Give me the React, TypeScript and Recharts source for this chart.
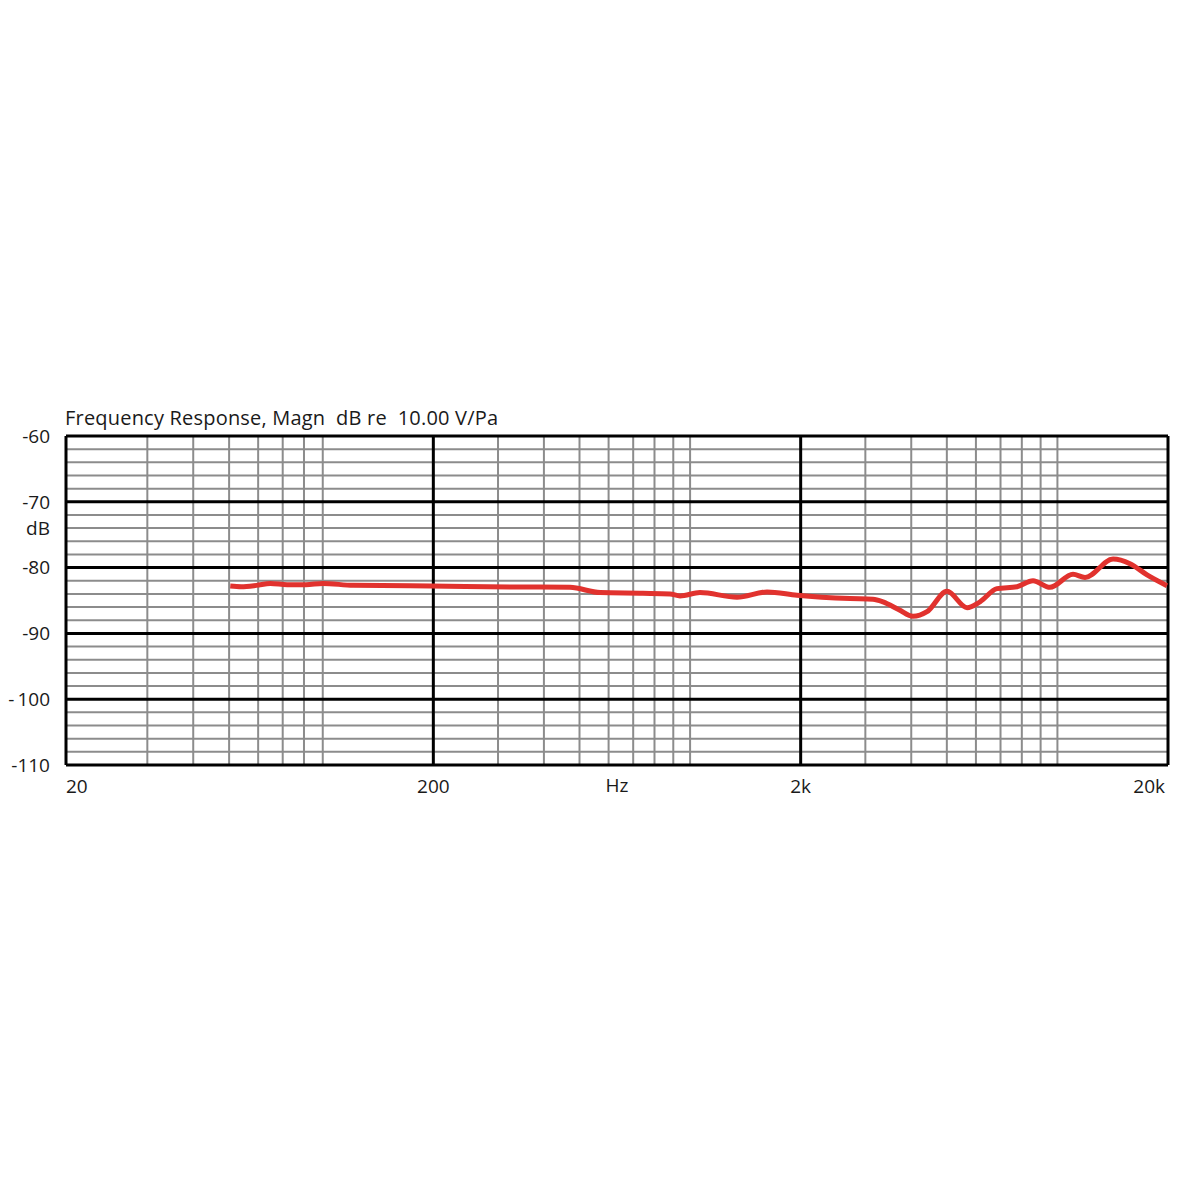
import React from "react";
import { LineChart, Line, XAxis, YAxis, CartesianGrid } from "recharts";

const freqs = [56, 60, 66, 72, 80, 90, 100, 121, 196, 344, 471, 569, 744, 882, 939, 1064, 1342, 1620, 1955, 2725, 3147, 3352, 3704, 4044, 4416, 5006, 5676, 6156, 6847, 7764, 8581, 9546, 11026, 11890, 14174, 15760, 17538, 19876];
const magnitudes = [-82.8, -82.9, -82.7, -82.4, -82.6, -82.6, -82.4, -82.7, -82.8, -82.95, -83.0, -83.8, -83.9, -84.0, -84.3, -83.8, -84.5, -83.7, -84.2, -84.7, -84.8, -85.2, -86.4, -87.4, -86.7, -83.6, -86.1, -85.2, -83.2, -82.9, -82.0, -83.0, -81.0, -81.5, -78.7, -79.4, -81.1, -82.75];

const xTicks = [20, 200, 2000, 20000];
const xTickLabels = ["20", "200", "2k", "20k"];
const yTicks = [-60, -70, -74, -80, -90, -100, -110];
const yTickLabels = ["-60", "-70", "dB", "-80", "-90", "-\u2009100", "-110"];
const majorX = [20, 200, 2000, 20000];
const minorX = [33.3, 44.4, 55.6, 66.7, 77.8, 88.9, 100, 300, 400, 500, 600, 700, 800, 900, 1000, 3000, 4000, 5000, 6000, 7000, 8000, 9000, 10000];
const majorY = [-60, -70, -80, -90, -100, -110];
const minorY = [-62, -64, -66, -68, -72, -74, -76, -78, -82, -84, -86, -88, -92, -94, -96, -98, -102, -104, -106, -108];

const data = freqs.map((f, i) => ({ f, db: magnitudes[i] }));
const FONT = "'Open Sans', 'DejaVu Sans', sans-serif";

const XTick = (props: any) => {
  const { x, y, payload } = props;
  const idx = xTicks.indexOf(payload.value);
  const anchor = idx === 0 ? "start" : idx === xTicks.length - 1 ? "end" : "middle";
  const dx = idx === xTicks.length - 1 ? -3 : 0;
  return (
    <text x={x} y={y} dx={dx} dy="0.72em" textAnchor={anchor} fontSize={19} fontFamily={FONT} fill="#1a1a1a">
      {idx >= 0 ? xTickLabels[idx] : ""}
    </text>
  );
};

const YTick = (props: any) => {
  const { x, y, payload } = props;
  const idx = yTicks.indexOf(payload.value);
  return (
    <text x={x} y={y} dy="0.36em" textAnchor="end" fontSize={19} fontFamily={FONT} fill="#1a1a1a">
      {idx >= 0 ? yTickLabels[idx] : ""}
    </text>
  );
};

export default function App() {
  return (
    <div style={{ position: "relative", width: 1184, height: 1184, background: "#fff" }}>
      <div
        style={{
          position: "absolute",
          left: 57,
          top: 398,
          fontFamily: FONT,
          fontSize: 20,
          lineHeight: "24px",
          letterSpacing: "0.2px",
          color: "#1a1a1a",
          whiteSpace: "pre",
        }}
      >
        {"Frequency Response, Magn  dB re  10.00 V/Pa"}
      </div>
      <LineChart width={1184} height={1184} data={data} margin={{ top: 428, right: 24, bottom: 387, left: 0 }}>
        <CartesianGrid
          horizontalValues={minorY}
          verticalValues={minorX}
          stroke="#8c8c8c"
          strokeWidth={2}
        />
        <CartesianGrid
          horizontalValues={majorY}
          verticalValues={majorX}
          stroke="#000"
          strokeWidth={3}
        />
        <XAxis
          dataKey="f"
          type="number"
          scale="log"
          domain={[20, 20000]}
          ticks={xTicks}
          allowDataOverflow
          axisLine={false}
          tickLine={false}
          tickSize={0}
          tickMargin={14}
          height={40}
          tick={<XTick />}
          interval={0}
          label={{ value: "Hz", position: "insideTop", offset: 14, fontSize: 19, fontFamily: FONT, fill: "#1a1a1a" }}
        />
        <YAxis
          type="number"
          domain={[-110, -60]}
          ticks={yTicks}
          allowDataOverflow
          axisLine={false}
          tickLine={false}
          tickSize={0}
          tickMargin={16}
          width={58}
          interval={0}
          tick={<YTick />}
        />
        <Line
          type="monotone"
          dataKey="db"
          stroke="#e1322e"
          strokeWidth={5}
          dot={false}
          isAnimationActive={false}
        />
      </LineChart>
    </div>
  );
}
